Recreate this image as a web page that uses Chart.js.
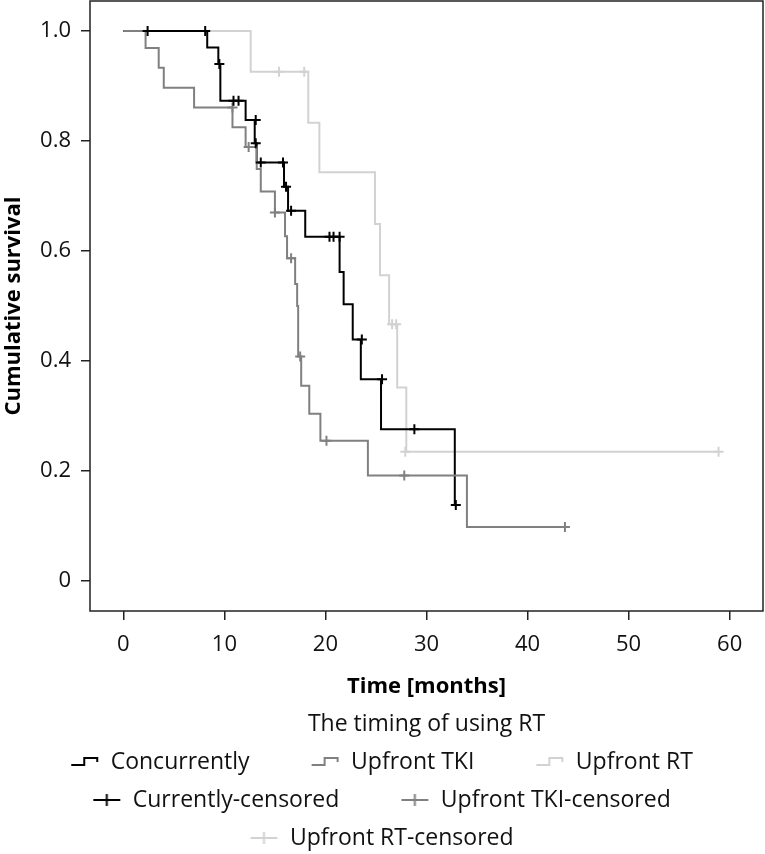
<!DOCTYPE html>
<html>
<head>
<meta charset="utf-8">
<script src="https://cdn.jsdelivr.net/npm/chart.js@4.4.0/dist/chart.umd.min.js"></script>
<style>
  html, body { margin: 0; padding: 0; background: #fff; }
</style>
</head>
<body>
<canvas id="km" width="765" height="854"></canvas>
<script>
// Kaplan-Meier curves, values
const xTicks = [0, 10, 20, 30, 40, 50, 60]
const yTicks = [0, 0.2, 0.4, 0.6, 0.8, 1.0]

const groupNames = ['Concurrently', 'Upfront TKI', 'Upfront RT']
const censorNames = ['Currently-censored', 'Upfront TKI-censored', 'Upfront RT-censored']

// Concurrently
const concTimes = [0, 8.3, 9.4, 9.6, 12.1, 13.0, 13.2, 15.9, 16.3, 18.0, 21.4, 21.8, 22.7, 23.5, 25.5, 32.8]
const concSurv = [1.0, 0.97, 0.94, 0.873, 0.838, 0.796, 0.761, 0.717, 0.673, 0.626, 0.562, 0.503, 0.439, 0.367, 0.276, 0.138]
const concCensTimes = [2.4, 8.1, 9.5, 10.9, 11.4, 13.1, 13.1, 13.6, 15.8, 16.1, 16.6, 20.4, 20.8, 21.4, 23.6, 25.6, 28.8, 32.9]
const concCensSurv = [1.0, 1.0, 0.94, 0.873, 0.873, 0.838, 0.796, 0.761, 0.761, 0.717, 0.673, 0.626, 0.626, 0.626, 0.439, 0.367, 0.276, 0.138]

// Upfront TKI
const tkiTimes = [0, 2.2, 3.5, 4.0, 7.0, 10.8, 12.1, 13.2, 13.6, 15.0, 16.0, 16.2, 17.0, 17.2, 17.3, 17.6, 18.4, 19.5, 24.2, 34.0]
const tkiSurv = [1.0, 0.969, 0.933, 0.897, 0.861, 0.825, 0.789, 0.749, 0.708, 0.670, 0.627, 0.587, 0.540, 0.50, 0.408, 0.355, 0.304, 0.255, 0.192, 0.098]
const tkiCensTimes = [10.8, 12.4, 15.0, 16.6, 17.5, 20.1, 27.8, 43.7]
const tkiCensSurv = [0.861, 0.789, 0.670, 0.587, 0.408, 0.255, 0.192, 0.098]

// Upfront RT
const rtTimes = [0, 12.6, 18.3, 19.4, 24.9, 25.4, 26.3, 27.1, 28.0]
const rtSurv = [1.0, 0.926, 0.833, 0.743, 0.649, 0.556, 0.467, 0.352, 0.235]
const rtCensTimes = [15.4, 17.9, 26.6, 27.0, 27.9, 58.9]
const rtCensSurv = [0.926, 0.926, 0.467, 0.467, 0.235, 0.235]

const colors = ['#000000', '#808080', '#d2d2d2']
const FONT = '"Open Sans", "Noto Sans", sans-serif'

Chart.defaults.font.family = FONT

const stepPoints = (times, surv, censTimes) => {
    const pts = times.map((t, i) => ({x: t, y: surv[i]}))
    const end = Math.max(times[times.length - 1], ...censTimes)
    pts.push({x: end, y: surv[surv.length - 1]})
    return pts
}
const censPoints = (times, surv) => times.map((t, i) => ({x: t, y: surv[i]}))

// legend icons (left part transparent to space the items out)
const stepIcon = color => {
    const c = document.createElement('canvas')
    c.width = 52; c.height = 14
    const g = c.getContext('2d')
    g.strokeStyle = color; g.lineWidth = 2
    g.beginPath()
    g.moveTo(24, 10); g.lineTo(37, 10); g.lineTo(37, 3); g.lineTo(50, 3); g.lineTo(50, 7)
    g.stroke()
    return c
}
const crossIcon = color => {
    const c = document.createElement('canvas')
    c.width = 52; c.height = 16
    const g = c.getContext('2d')
    g.strokeStyle = color; g.lineWidth = 2
    g.beginPath()
    g.moveTo(24, 8); g.lineTo(51, 8)
    g.moveTo(37.5, 2); g.lineTo(37.5, 14)
    g.stroke()
    return c
}

const lines = [
    stepPoints(concTimes, concSurv, concCensTimes),
    stepPoints(tkiTimes, tkiSurv, tkiCensTimes),
    stepPoints(rtTimes, rtSurv, rtCensTimes)
]
const censors = [
    censPoints(concCensTimes, concCensSurv),
    censPoints(tkiCensTimes, tkiCensSurv),
    censPoints(rtCensTimes, rtCensSurv)
]
const drawOrder = [2, 1, 3]

const datasets = []
lines.forEach((pts, i) => {
    datasets.push({
        label: groupNames[i],
        data: pts,
        borderColor: colors[i],
        borderWidth: 2,
        stepped: true,
        pointRadius: 0,
        fill: false,
        order: drawOrder[i],
        icon: stepIcon(colors[i])
    })
})
censors.forEach((pts, i) => {
    datasets.push({
        label: censorNames[i],
        data: pts,
        showLine: false,
        borderColor: colors[i],
        backgroundColor: colors[i],
        pointStyle: 'cross',
        pointRadius: 5,
        pointBorderWidth: 2,
        order: 0,
        icon: crossIcon(colors[i])
    })
})

const frame = {
    id: 'frame',
    beforeDatasetsDraw(chart) {
        const {ctx, chartArea: a} = chart
        ctx.save()
        ctx.strokeStyle = '#222'
        ctx.lineWidth = 1.5
        ctx.strokeRect(a.left, a.top, a.right - a.left, a.bottom - a.top)
        ctx.restore()
    }
}

const tickGrid = {display: true, drawOnChartArea: false, drawTicks: true, tickLength: 9, color: '#222', lineWidth: 1.5}

new Chart(document.getElementById('km'), {
    type: 'line',
    data: {datasets},
    options: {
        responsive: false,
        animation: false,
        layout: {autoPadding: false, padding: {top: 1, right: 2, bottom: -5.5, left: 0}},
        scales: {
            x: {
                type: 'linear',
                min: -3.3,
                max: 63.3,
                afterBuildTicks: s => { s.ticks = xTicks.map(v => ({value: v})) },
                afterFit: s => { s.height = 89; s.paddingLeft = 0; s.paddingRight = 0 },
                ticks: {font: {size: 22}, color: '#111', padding: 12, maxRotation: 0},
                grid: tickGrid,
                border: {display: false},
                title: {display: true, text: 'Time [months]', color: '#000',
                    font: {size: 22, weight: 'bold'}, padding: {top: 0, bottom: 0}}
            },
            y: {
                type: 'linear',
                min: -0.0545,
                max: 1.0545,
                afterBuildTicks: s => { s.ticks = yTicks.map(v => ({value: v})) },
                afterFit: s => { s.width = 90; s.paddingTop = 0; s.paddingBottom = 0 },
                ticks: {font: {size: 22}, color: '#111', padding: 10,
                    callback: v => v === 0 ? '0' : v.toFixed(1)},
                grid: tickGrid,
                border: {display: false},
                title: {display: true, text: 'Cumulative survival', color: '#000',
                    font: {size: 22, weight: 'bold'}, padding: {top: 1, bottom: 0}}
            }
        },
        plugins: {
            tooltip: {enabled: false},
            title: {
                display: true,
                text: 'The timing of using RT',
                position: 'bottom',
                fullSize: false,
                weight: 500,
                color: '#111',
                font: {size: 23, weight: 'normal', lineHeight: 1},
                padding: {top: 12.5, bottom: 0}
            },
            legend: {
                position: 'bottom',
                labels: {
                    usePointStyle: true,
                    pointStyleWidth: 52,
                    padding: 15,
                    color: '#111',
                    font: {size: 23},
                    generateLabels: chart => chart.data.datasets.map((ds, i) => ({
                        text: ds.label + '\u2002\u2002',
                        pointStyle: ds.icon,
                        fillStyle: 'rgba(0,0,0,0)',
                        strokeStyle: 'rgba(0,0,0,0)',
                        lineWidth: 0,
                        fontColor: '#111',
                        hidden: false,
                        datasetIndex: i
                    }))
                }
            }
        }
    },
    plugins: [frame]
})
</script>
</body>
</html>
